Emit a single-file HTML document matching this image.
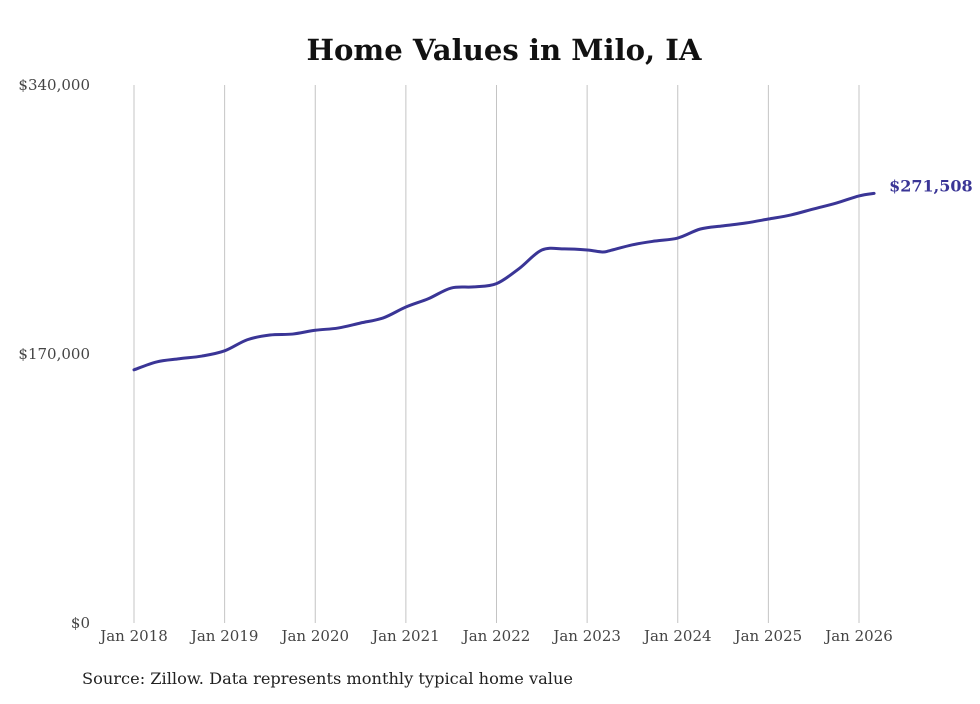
<!DOCTYPE html>
<html><head><meta charset="utf-8">
<style>
body{margin:0;background:#fff;width:980px;height:699px;overflow:hidden}
svg text{font-family:"DejaVu Serif","Liberation Serif",serif}
</style></head>
<body>
<svg id="chart" width="980" height="699" viewBox="0 0 980 699" xmlns="http://www.w3.org/2000/svg">
<text x="504" y="60" text-anchor="middle" font-size="29" font-weight="bold" fill="#111" textLength="395" lengthAdjust="spacingAndGlyphs">Home Values in Milo, IA</text>
<g id="grid"></g><g id="yaxis"></g><g id="xaxis"></g><g id="series"></g>
<text x="82" y="684" font-size="16" fill="#222" textLength="491" lengthAdjust="spacingAndGlyphs">Source: Zillow. Data represents monthly typical home value</text>
</svg>
<script>
const months = [0,3,6,9,12,15,18,21,24,27,30,33,36,39,42,45,48,51,54,57,60,62,63,66,69,72,75,78,81,84,87,90,93,96,98];
const values = [160000,165000,167000,168700,172000,179000,182000,182600,185000,186400,189600,192800,199700,205000,211700,212400,214500,224000,235700,236400,235700,234500,235300,239000,241400,243300,249000,251000,252800,255300,257900,261700,265400,269900,271508];
const yTicks = [0,170000,340000];
const yTickLabels = ["$0","$170,000","$340,000"];
const xTickMonths = [0,12,24,36,48,60,72,84,96];
const xTickLabels = ["Jan 2018","Jan 2019","Jan 2020","Jan 2021","Jan 2022","Jan 2023","Jan 2024","Jan 2025","Jan 2026"];
const NS="http://www.w3.org/2000/svg";
const x=m=>134+m*(859-134)/96;
const y=v=>623-v*(623-85)/340000;
function mk(t,a,p){const e=document.createElementNS(NS,t);for(const k in a)e.setAttribute(k,a[k]);p.appendChild(e);return e;}
const grid=document.getElementById('grid'),ya=document.getElementById('yaxis'),xa=document.getElementById('xaxis'),se=document.getElementById('series');
xTickMonths.forEach((m,i)=>{
 const l=mk('line',{x1:x(m),x2:x(m),y1:85,y2:623,stroke:'#c4c4c4','stroke-width':1},grid);
 
 
 const t=mk('text',{x:x(m),y:641,'text-anchor':'middle','font-size':15,fill:'#444'},xa);
 t.textContent=xTickLabels[i];
 
 
});
yTicks.forEach((v,i)=>{
 const t=mk('text',{x:90,y:y(v)+5,'text-anchor':'end','font-size':15,fill:'#444'},ya);
 t.textContent=yTickLabels[i];
 
 
});
const pts=months.map((m,i)=>[x(m),y(values[i])]);
let d='M'+pts[0][0]+','+pts[0][1];
for(let i=0;i<pts.length-1;i++){
 const p0=pts[Math.max(0,i-1)],p1=pts[i],p2=pts[i+1],p3=pts[Math.min(pts.length-1,i+2)];
 const c1=[p1[0]+(p2[0]-p0[0])/6,p1[1]+(p2[1]-p0[1])/6],c2=[p2[0]-(p3[0]-p1[0])/6,p2[1]-(p3[1]-p1[1])/6];
 d+=' C'+c1+' '+c2+' '+p2;
}
const path=mk('path',{d:d,fill:'none',stroke:'#3a3596','stroke-width':3,'stroke-linecap':'round'},se);


const last=pts[pts.length-1];
const lbl=mk('text',{x:last[0]+15,y:last[1]-2,'font-size':16,'font-weight':'bold',fill:'#3a3596'},se);
lbl.textContent='$'+values[values.length-1].toLocaleString('en-US');


</script>
</body></html>
